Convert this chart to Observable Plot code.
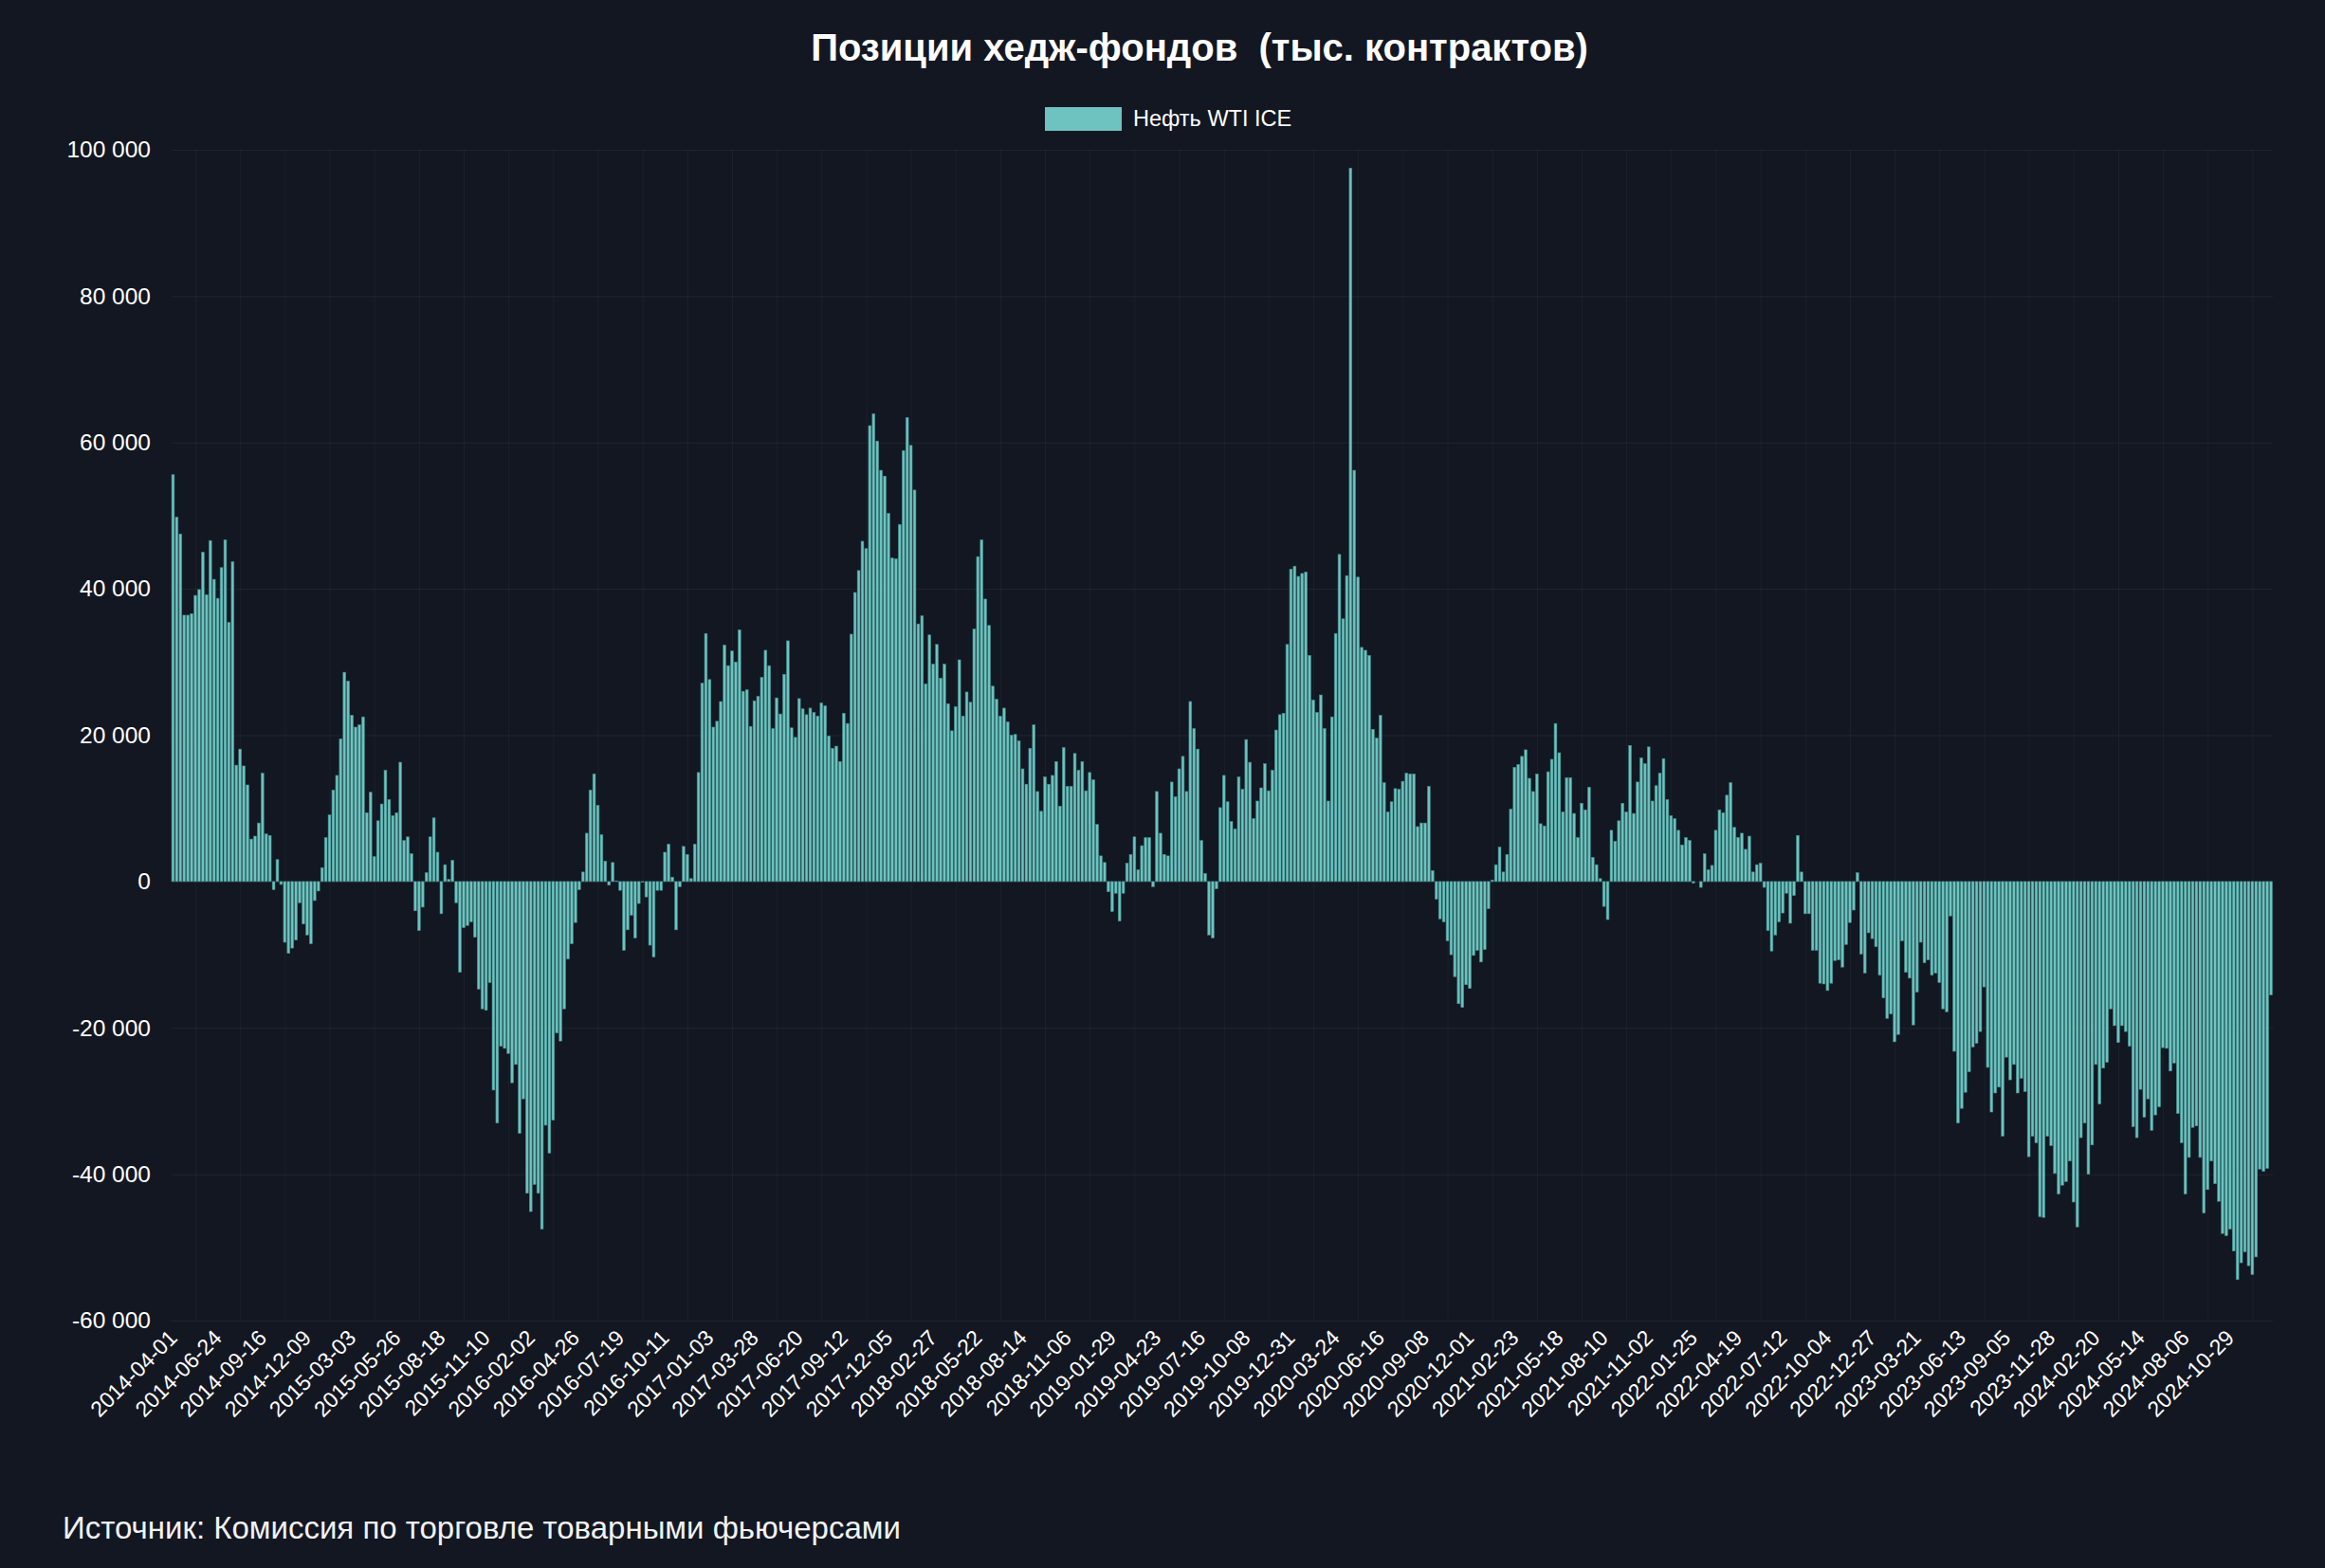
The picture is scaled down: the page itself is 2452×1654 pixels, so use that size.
<!DOCTYPE html>
<html><head><meta charset="utf-8">
<script src="https://cdn.jsdelivr.net/npm/d3@7"></script>
<script src="https://cdn.jsdelivr.net/npm/@observablehq/plot@0.6"></script>
<style>
html,body{margin:0;padding:0;background:#131722;}
body{width:2452px;height:1654px;position:relative;overflow:hidden;font-family:"Liberation Sans",Arial,Helvetica,sans-serif;color:#fff;}
#title{position:absolute;top:27px;left:0;width:2530px;text-align:center;font-weight:bold;font-size:40px;line-height:46px;}
#legend{position:absolute;top:112px;left:1102px;display:flex;align-items:center;font-size:23.5px;line-height:26px;}
#legend .sw{width:81px;height:25px;background:#6ec3c0;margin-right:12px;}
#chart{position:absolute;top:0;left:0;}
#source{position:absolute;left:66px;top:1593px;font-size:33px;line-height:38px;color:#f2f2f2;}
</style></head>
<body>
<div id="title">Позиции хедж-фондов&nbsp; (тыс. контрактов)</div>
<div id="legend"><div class="sw"></div><span>Нефть WTI ICE</span></div>
<div id="chart"></div>
<div id="source">Источник: Комиссия по торговле товарными фьючерсами</div>
<script>
// Weekly net positions (thousands of contracts), starting 2014-04-01
const startDate = "2014-04-01";
const values2014 = [55.6,49.8,47.5,36.4,36.4,36.6,39.1,39.9,45.0,39.2,46.6,41.3,38.7,42.9,46.7,35.4,43.7,15.9,18.1,15.8,13.2,5.8,6.2,8.0,14.8,6.5,6.3,-1.1,3.0,-0.4,-8.3,-9.8,-9.1,-8.0,-2.9,-5.8,-7.3,-8.5,-2.6,-1.3,1.9];
const values2015 = [6.0,9.1,12.5,14.5,19.5,28.6,27.4,22.7,21.1,21.4,22.5,9.4,12.2,3.4,8.3,10.6,15.2,11.2,9.0,9.4,16.3,5.6,6.1,3.8,-4.0,-6.7,-3.5,1.2,6.1,8.7,4.0,-4.4,2.3,0.3,2.9,-2.9,-12.4,-6.3,-6.0,-5.5,-7.6,-14.7,-17.4,-17.6,-13.8,-28.5,-33.0,-22.5,-22.8,-23.5,-27.5,-25.0];
const values2016 = [-34.4,-29.7,-42.6,-45.1,-41.4,-42.6,-47.5,-33.3,-37.1,-32.6,-20.7,-21.8,-17.4,-10.6,-8.5,-5.6,-1.1,1.3,6.6,12.5,14.7,10.4,6.4,2.8,-0.5,2.6,0.1,-1.2,-9.4,-6.6,-4.6,-7.7,-3.0,-0.1,-2.1,-8.7,-10.3,-1.2,-1.2,4.0,5.1,0.6,-6.6,-0.7,4.8,3.7,0.4,5.1,14.9];
const values2017 = [27.1,33.9,27.6,21.1,21.9,24.6,32.3,29.5,31.5,30.0,34.4,26.0,26.2,21.2,24.7,25.3,27.9,31.6,29.5,20.9,25.1,22.9,28.3,32.9,21.0,19.7,25.0,23.6,22.8,23.7,23.1,22.6,24.4,24.0,19.9,18.2,18.5,16.4,23.0,21.6,33.8,39.5,42.5,46.5,45.5,62.3,63.9,60.2,56.2,55.4,50.3,44.2];
const values2018 = [44.1,48.8,58.9,63.4,59.6,53.5,35.2,36.3,27.0,33.7,29.7,32.4,27.8,29.7,24.3,20.6,23.9,30.3,22.6,25.9,24.5,34.5,44.4,46.7,38.6,35.0,26.7,24.9,22.6,23.7,21.8,20.0,20.1,19.2,15.4,13.3,18.2,21.4,12.3,9.6,14.3,13.3,14.5,16.4,10.3,18.3,13.0,13.0,17.5,15.2,16.4,12.4];
const values2019 = [14.9,13.9,7.8,3.5,2.6,-1.4,-4.1,-1.6,-5.4,-1.6,2.5,3.7,6.1,1.6,4.9,6.0,6.0,-0.7,12.3,6.6,3.7,3.5,13.6,11.6,15.4,17.1,12.3,24.6,20.9,18.1,5.6,1.1,-7.3,-7.7,-1.0,10.1,14.5,10.9,8.2,7.2,14.3,12.6,19.4,16.3,8.6,11.0,12.8,16.1,12.4,15.2,20.7,22.8];
const values2020 = [23.0,32.4,42.7,43.1,41.7,42.1,42.3,30.9,24.8,23.1,25.5,20.9,11.0,22.5,33.9,44.7,35.9,41.8,97.5,56.2,41.6,32.0,31.6,30.9,20.8,19.6,22.7,13.5,9.5,10.9,12.7,12.6,13.7,14.8,14.7,14.7,7.5,8.0,8.0,13.0,1.5,-2.4,-5.1,-5.5,-8.1,-10.0,-13.0,-16.7,-17.2,-14.1,-14.6,-10.1,-9.4];
const values2021 = [-11.0,-9.3,-3.7,0.2,2.3,4.7,1.3,3.7,9.9,15.6,16.0,17.1,18.0,14.1,12.3,14.7,7.9,7.6,15.0,16.7,21.6,17.6,9.5,14.2,14.2,9.3,6.0,10.7,9.8,12.9,3.3,2.3,0.4,-3.4,-5.2,7.0,5.5,8.3,10.7,9.5,18.6,9.3,13.6,16.9,16.1,18.4,11.0,13.1,14.8,16.8,11.2,9.0];
const values2022 = [8.6,7.0,5.0,6.0,5.6,-0.2,0.0,-0.8,3.8,1.6,2.2,7.0,9.8,9.4,11.8,13.5,7.4,6.0,6.6,4.4,6.2,1.3,2.3,2.5,-0.8,-6.7,-9.5,-7.3,-5.5,-4.3,-1.6,-5.7,-1.9,6.3,1.3,-4.4,-4.4,-9.4,-9.4,-13.9,-14.0,-14.9,-13.9,-10.8,-10.7,-11.7,-8.6,-5.6,-3.9,1.2,-9.9,-12.5];
const values2023 = [-7.0,-7.8,-8.9,-12.8,-15.9,-18.7,-18.1,-21.9,-20.9,-8.1,-12.4,-13.2,-19.6,-15.1,-8.3,-11.1,-10.7,-12.8,-12.5,-13.8,-17.4,-17.8,-4.7,-23.2,-33.0,-31.0,-28.8,-26.0,-22.6,-22.1,-20.5,-14.4,-25.4,-31.5,-28.9,-28.1,-34.8,-24.0,-27.1,-25.0,-28.9,-26.9,-28.7,-37.6,-34.8,-35.7,-45.8,-45.9,-34.8,-36.1,-39.9,-42.7];
const values2024 = [-41.5,-41.0,-38.2,-43.8,-47.2,-35.0,-33.0,-40.0,-36.0,-25.0,-30.4,-25.5,-24.7,-17.4,-19.7,-22.0,-19.7,-20.5,-22.5,-33.5,-35.0,-28.4,-32.2,-29.7,-34.0,-31.9,-30.8,-22.7,-22.8,-25.9,-24.8,-31.7,-35.7,-42.7,-37.7,-33.6,-33.4,-37.7,-45.3,-42.1,-38.2,-41.3,-43.7,-48.1,-48.4,-47.5,-50.5,-54.4,-52.1,-50.6,-52.5,-53.7];
const values2025 = [-51.3,-39.3,-39.6,-39.2,-15.5];

const tickLabels = ["2014-04-01","2014-06-24","2014-09-16","2014-12-09","2015-03-03","2015-05-26","2015-08-18","2015-11-10","2016-02-02","2016-04-26","2016-07-19","2016-10-11","2017-01-03","2017-03-28","2017-06-20","2017-09-12","2017-12-05","2018-02-27","2018-05-22","2018-08-14","2018-11-06","2019-01-29","2019-04-23","2019-07-16","2019-10-08","2019-12-31","2020-03-24","2020-06-16","2020-09-08","2020-12-01","2021-02-23","2021-05-18","2021-08-10","2021-11-02","2022-01-25","2022-04-19","2022-07-12","2022-10-04","2022-12-27","2023-03-21","2023-06-13","2023-09-05","2023-11-28","2024-02-20","2024-05-14","2024-08-06","2024-10-29"];
const yTicks = [-60000,-40000,-20000,0,20000,40000,60000,80000,100000];
const seriesName = "Нефть WTI ICE";

const allValues = [].concat(values2014,values2015,values2016,values2017,values2018,values2019,values2020,values2021,values2022,values2023,values2024,values2025);
const fmtDate = d3.utcFormat("%Y-%m-%d");
const start = new Date(startDate + "T00:00:00Z");
const dates = allValues.map((_, i) => fmtDate(d3.utcDay.offset(start, 7 * i)));
const data = allValues.map((v, i) => ({date: dates[i], value: v * 1000}));
const tickIdx = tickLabels.map(t => dates.indexOf(t));
const vGrid = tickIdx.map(i => dates[i + 6]).filter(d => d);

const fmtY = d => (d < 0 ? "-" : "") + d3.format(",")(Math.abs(d)).replace(/,/g, " ");

const W = 2452, H = 1560;
const chart = Plot.plot({
  width: W, height: H,
  marginTop: 158, marginBottom: H - 1393, marginLeft: 180.5, marginRight: 55,
  style: {background: "transparent", color: "#fff", fontFamily: "'Liberation Sans', Arial, Helvetica, sans-serif", fontSize: "24px"},
  x: {type: "band", domain: dates, paddingInner: 0.28, paddingOuter: 0.14, label: null},
  y: {domain: [-60000, 100000], label: null},
  marks: [
    Plot.gridY(yTicks, {stroke: "#ffffff", strokeOpacity: 0.06}),
    Plot.ruleX(vGrid, {stroke: "#ffffff", strokeOpacity: 0.04}),
    Plot.barY(data, {x: "date", y: "value", fill: "#6ec3c0", stroke: "#3f8a88", strokeWidth: 0.6, title: d => seriesName + ": " + d.value}),
    Plot.axisY(yTicks, {tickSize: 0, tickPadding: 22, tickFormat: fmtY, fill: "#fff", fontSize: 24.5}),
    Plot.axisX(tickLabels, {tickSize: 0, tickPadding: 14, tickRotate: -45, fill: "#fff", fontSize: 23})
  ]
});
document.getElementById("chart").appendChild(chart);
</script>
</body></html>
